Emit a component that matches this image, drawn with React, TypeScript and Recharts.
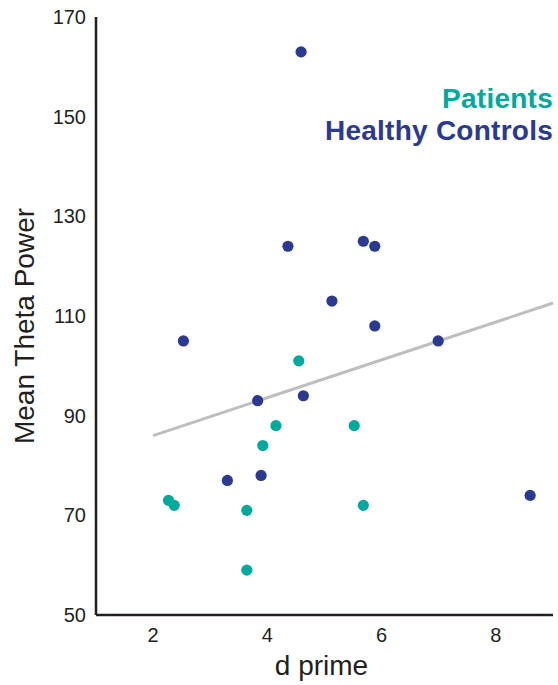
import {
  ScatterChart,
  Scatter,
  XAxis,
  YAxis,
  ReferenceLine,
} from "recharts";

const patientsDPrime = [4.55, 4.15, 5.52, 3.92, 2.27, 2.37, 5.68, 3.64, 3.64];
const patientsTheta = [101, 88, 88, 84, 73, 72, 72, 71, 59];

const controlsDPrime = [
  4.59, 4.36, 5.68, 5.88, 5.13, 5.88, 2.53, 6.99, 4.63, 3.83, 3.3, 3.89, 8.6,
];
const controlsTheta = [163, 124, 125, 124, 113, 108, 105, 105, 94, 93, 77, 78, 74];

const fitDPrime = [2, 9];
const fitTheta = [86, 112.6];

const xTicks = [2, 4, 6, 8];
const yTicks = [50, 70, 90, 110, 130, 150, 170];

const series = [
  { name: "Patients", color: "#00A99D", x: patientsDPrime, y: patientsTheta },
  {
    name: "Healthy Controls",
    color: "#2B3990",
    x: controlsDPrime,
    y: controlsTheta,
  },
];

const font = "'Liberation Sans', Arial, Helvetica, sans-serif";
const ink = "#231F20";

const toPoints = (xs: number[], ys: number[]) =>
  xs.map((x, i) => ({ dprime: x, theta: ys[i] }));

const dot = (color: string) => (props: any) =>
  <circle cx={props.cx} cy={props.cy} r={5.6} fill={color} />;

export default function App() {
  return (
    <div
      style={{
        position: "absolute",
        left: 0,
        top: 0,
        width: 558,
        height: 685,
        background: "#fff",
        fontFamily: font,
      }}
    >
      <ScatterChart
        width={558}
        height={685}
        margin={{ top: 17, right: 5, bottom: 0, left: 0 }}
      >
        <XAxis
          type="number"
          dataKey="dprime"
          domain={[1, 9]}
          ticks={xTicks}
          height={70}
          axisLine={{ stroke: ink, strokeWidth: 2.5 }}
          tickLine={false}
          tickSize={6}
          tickMargin={7}
          tick={{ fontSize: 20, fill: ink, fontFamily: font }}
          label={{
            content: ({ viewBox }: any) => (
              <text
                x={viewBox.x + viewBox.width / 2 - 3}
                y={viewBox.y + 60}
                textAnchor="middle"
                fontSize={28}
                fill={ink}
                fontFamily={font}
              >
                d prime
              </text>
            ),
          }}
        />
        <YAxis
          type="number"
          dataKey="theta"
          domain={[50, 170]}
          ticks={yTicks}
          width={96}
          axisLine={{ stroke: ink, strokeWidth: 2.5 }}
          tickLine={false}
          tickSize={6}
          tickMargin={4}
          tick={{ fontSize: 20, fill: ink, fontFamily: font }}
          label={{
            content: ({ viewBox }: any) => (
              <text
                transform={`translate(33.5, ${
                  viewBox.y + viewBox.height / 2 + 10
                }) rotate(-90)`}
                textAnchor="middle"
                fontSize={28}
                fill={ink}
                fontFamily={font}
              >
                Mean Theta Power
              </text>
            ),
          }}
        />
        <ReferenceLine
          segment={[
            { x: fitDPrime[0], y: fitTheta[0] },
            { x: fitDPrime[1], y: fitTheta[1] },
          ]}
          stroke="#BEBEBE"
          strokeWidth={3}
        />
        {series.map((s) => (
          <Scatter
            key={s.name}
            name={s.name}
            data={toPoints(s.x, s.y)}
            fill={s.color}
            shape={dot(s.color)}
            isAnimationActive={false}
          />
        ))}
      </ScatterChart>
      <div
        style={{
          position: "absolute",
          top: 83,
          right: 5,
          textAlign: "right",
          fontSize: 28,
          lineHeight: "32.4px",
          letterSpacing: 0.25,
          fontWeight: "bold",
        }}
      >
        {series.map((s) => (
          <div key={s.name} style={{ color: s.color }}>
            {s.name}
          </div>
        ))}
      </div>
    </div>
  );
}
